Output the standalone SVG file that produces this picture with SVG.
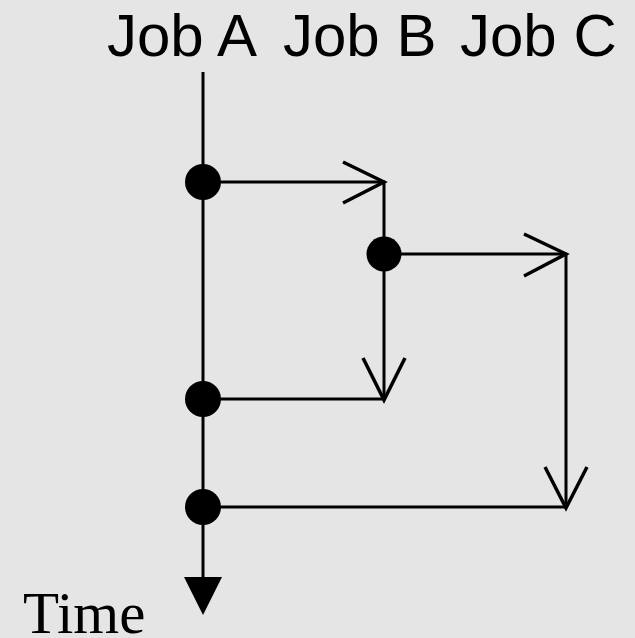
<svg xmlns="http://www.w3.org/2000/svg" width="635" height="638" viewBox="0 0 635 638">
  <style>
    .lbl { font-family: "Liberation Sans", Arial, sans-serif; font-size: 60px; fill: #000; }
    .time { font-family: "Liberation Serif", "Times New Roman", serif; font-size: 59px; fill: #000; }
    .edge { stroke: #000; stroke-width: 3; fill: none; }
    .head { stroke: #000; stroke-width: 3.5; fill: none; stroke-linecap: butt; stroke-linejoin: miter; }
    .dot { fill: #000; }
  </style>
  <rect width="635" height="638" fill="#e5e5e5"/>

  <!-- column headings -->
  <g id="headings">
    <text class="lbl" x="107" y="56">Job A</text>
    <text class="lbl" x="283" y="56">Job B</text>
    <text class="lbl" x="460" y="56">Job C</text>
  </g>

  <!-- time axis -->
  <g id="time-axis">
    <line class="edge" x1="203" y1="72" x2="203" y2="580"/>
    <polygon points="184,577 222,577 203,615" fill="#000"/>
    <text class="time" x="23" y="633">Time</text>
  </g>

  <!-- connectors -->
  <g id="connectors">
    <!-- A forks B -->
    <line class="edge" x1="203" y1="182" x2="385" y2="182"/>
    <polyline class="head" points="343,162 384,182 343,203"/>
    <line class="edge" x1="384" y1="182" x2="384" y2="400"/>
    <polyline class="head" points="363,358 384,400 405,358"/>
    <!-- B forks C -->
    <line class="edge" x1="384" y1="254" x2="567" y2="254"/>
    <polyline class="head" points="524,234 566,254 524,276"/>
    <line class="edge" x1="566" y1="254" x2="566" y2="508"/>
    <polyline class="head" points="545,467 566,508 587,467"/>
    <!-- joins back to A -->
    <line class="edge" x1="203" y1="399" x2="385" y2="399"/>
    <line class="edge" x1="203" y1="507" x2="567" y2="507"/>
  </g>

  <!-- events -->
  <g id="fork-b"><circle class="dot" cx="203" cy="182" r="18"/></g>
  <g id="fork-c"><circle class="dot" cx="384" cy="254" r="17.5"/></g>
  <g id="join-b"><circle class="dot" cx="203" cy="399" r="18"/></g>
  <g id="join-c"><circle class="dot" cx="203" cy="507" r="18"/></g>
</svg>
